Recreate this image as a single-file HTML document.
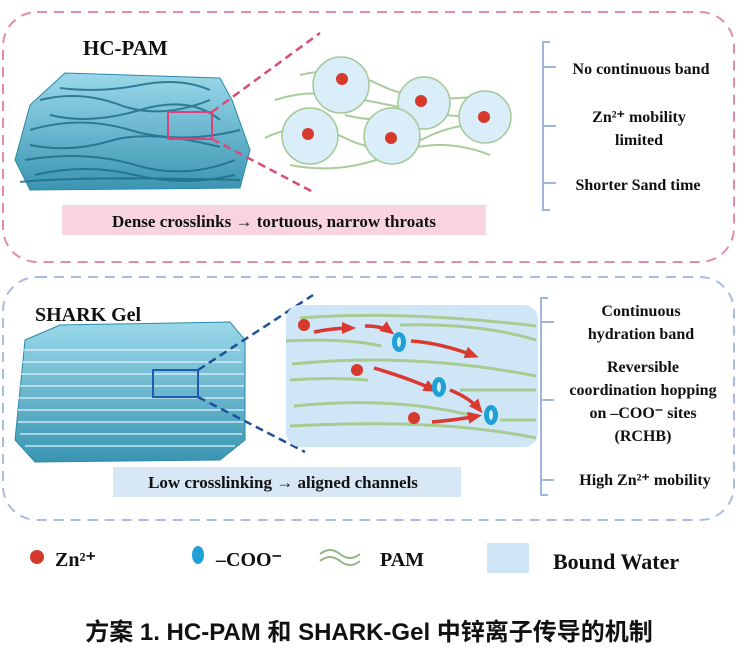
<!DOCTYPE html>
<html><head><meta charset="utf-8"><style>
body{margin:0;background:#fff}
svg{display:block}
.t{font-family:"Liberation Serif",serif;font-weight:bold;fill:#111}
</style></head><body>
<svg width="738" height="668" viewBox="0 0 738 668" xmlns="http://www.w3.org/2000/svg">
<defs>
<linearGradient id="gl" x1="0" y1="0" x2="0" y2="1"><stop offset="0" stop-color="#9ad8ea"/><stop offset="1" stop-color="#3a95b2"/></linearGradient>
<marker id="ar" markerUnits="userSpaceOnUse" markerWidth="14" markerHeight="12" refX="10" refY="6" orient="auto"><path d="M0,0 L14,6 L0,12 z" fill="#d9392f"/></marker>
</defs>
<!-- top box -->
<rect x="3" y="12" width="731" height="250" rx="34" fill="none" stroke="#e48aaa" stroke-width="2" stroke-dasharray="10,7"/>
<text x="83" y="55" class="t" font-size="21">HC-PAM</text>
<path d="M30,105 L65,73 L220,78 L232,100 L250,150 L240,188 L30,190 L15,160 Z" fill="url(#gl)" stroke="#2d8aa6"/>
<g stroke="#1f6f88" stroke-width="2" fill="none" opacity=".85">
<path d="M40,100 q40,-10 80,5 t90,-5"/><path d="M30,130 q50,-15 100,0 t110,0"/><path d="M25,160 q60,-10 110,5 t100,-5"/><path d="M50,115 q40,10 90,-5 t80,10"/><path d="M35,175 q50,-12 100,0 t100,0"/><path d="M60,88 q40,5 80,-3 t70,5"/><path d="M30,145 q40,8 80,-4 t110,6"/><path d="M20,182 q60,-6 220,-2"/>
</g>
<rect x="168" y="112" width="44" height="27" fill="none" stroke="#e0407a" stroke-width="2"/>
<line x1="212" y1="112" x2="320" y2="33" stroke="#d84c7c" stroke-width="2.5" stroke-dasharray="8,5"/>
<line x1="212" y1="139" x2="315" y2="193" stroke="#d84c7c" stroke-width="2.5" stroke-dasharray="8,5"/>
<g stroke="#a9cc9a" stroke-width="2" fill="none">
<path d="M275,100 q30,-10 60,-5 t80,15 t80,5"/><path d="M265,138 q40,-20 80,0 t80,0 t80,-10"/><path d="M290,165 q50,10 100,-10 t100,0"/><path d="M300,75 q40,-10 80,10 t110,10"/><path d="M345,115 q40,10 80,0"/>
</g>
<g fill="#d9eef8" stroke="#a3c896" stroke-width="1.5">
<circle cx="341" cy="85" r="28"/><circle cx="424" cy="103" r="26"/><circle cx="485" cy="117" r="26"/><circle cx="310" cy="136" r="28"/><circle cx="392" cy="136" r="28"/>
</g>
<g fill="#d63a2d"><circle cx="342" cy="79" r="6"/><circle cx="421" cy="101" r="6"/><circle cx="484" cy="117" r="6"/><circle cx="308" cy="134" r="6"/><circle cx="391" cy="138" r="6"/></g>
<rect x="62" y="205" width="424" height="30" fill="#f8d4df"/>
<text x="274" y="227" class="t" font-size="17" text-anchor="middle">Dense crosslinks → tortuous, narrow throats</text>
<path d="M550,42 H543 V210 H550" fill="none" stroke="#9fb6d8" stroke-width="2"/>
<g stroke="#9fb6d8" stroke-width="2"><line x1="543" y1="67" x2="556" y2="67"/><line x1="543" y1="126" x2="556" y2="126"/><line x1="543" y1="183" x2="556" y2="183"/></g>
<text x="641" y="74" class="t" font-size="16" text-anchor="middle">No continuous band</text>
<text x="639" y="122" class="t" font-size="16" text-anchor="middle">Zn²⁺ mobility</text>
<text x="639" y="145" class="t" font-size="16" text-anchor="middle">limited</text>
<text x="638" y="190" class="t" font-size="16" text-anchor="middle">Shorter Sand time</text>
<!-- bottom box -->
<rect x="3" y="277" width="731" height="243" rx="34" fill="none" stroke="#a9bde0" stroke-width="2" stroke-dasharray="10,7"/>
<text x="35" y="321" class="t" font-size="20">SHARK Gel</text>
<path d="M25,340 L60,325 L230,322 L245,340 L245,440 L220,460 L35,462 L15,440 Z" fill="url(#gl)" stroke="#2d8aa6"/>
<g stroke="#e6f6fb" stroke-width="1.5" fill="none" opacity=".8">
<path d="M20,350 h220"/><path d="M18,362 h224"/><path d="M18,374 h226"/><path d="M18,386 h226"/><path d="M18,398 h226"/><path d="M18,410 h226"/><path d="M18,422 h226"/><path d="M20,434 h222"/><path d="M25,446 h210"/>
</g>
<rect x="153" y="370" width="45" height="27" fill="none" stroke="#1d5bb0" stroke-width="2"/>
<line x1="198" y1="370" x2="313" y2="295" stroke="#1d4f9a" stroke-width="2.5" stroke-dasharray="8,5"/>
<line x1="198" y1="397" x2="305" y2="452" stroke="#1d4f9a" stroke-width="2.5" stroke-dasharray="8,5"/>
<rect x="286" y="305" width="252" height="142" rx="14" fill="#cfe6f6"/>
<g stroke="#a6cc92" stroke-width="3" fill="none">
<path d="M300,318 q100,-8 236,8"/><path d="M286,341 q60,-3 95,5"/><path d="M400,325 q80,-2 136,15"/><path d="M292,364 q120,-12 244,12"/><path d="M290,380 q40,-3 78,0"/><path d="M460,390 h76"/><path d="M294,406 q100,-10 180,10"/><path d="M500,420 h36"/><path d="M290,426 q150,-8 246,12"/>
</g>
<g stroke="#d9392f" stroke-width="3.5" fill="none" marker-end="url(#ar)">
<path d="M314,332 q20,-4 38,-4"/><path d="M365,326 q18,0 26,6"/><path d="M411,341 q30,2 64,15"/><path d="M374,368 q40,12 60,22"/><path d="M450,390 q20,8 30,20"/><path d="M432,422 q24,-2 46,-6"/>
</g>
<g fill="#d63a2d"><circle cx="304" cy="325" r="6"/><circle cx="357" cy="370" r="6"/><circle cx="414" cy="418" r="6"/></g>
<g fill="#1fa1d6"><ellipse cx="399" cy="342" rx="7" ry="10"/><ellipse cx="439" cy="387" rx="7" ry="10"/><ellipse cx="491" cy="415" rx="7" ry="10"/></g>
<g fill="#d8f0fb"><ellipse cx="399" cy="342" rx="2" ry="5"/><ellipse cx="439" cy="387" rx="2" ry="5"/><ellipse cx="491" cy="415" rx="2" ry="5"/></g>
<rect x="113" y="467" width="348" height="30" fill="#d7e7f6"/>
<text x="283" y="488" class="t" font-size="17" text-anchor="middle">Low crosslinking → aligned channels</text>
<path d="M548,298 H541 V495 H548" fill="none" stroke="#9fb6d8" stroke-width="2"/>
<g stroke="#9fb6d8" stroke-width="2"><line x1="541" y1="322" x2="554" y2="322"/><line x1="541" y1="400" x2="554" y2="400"/><line x1="541" y1="480" x2="554" y2="480"/></g>
<text x="641" y="316" class="t" font-size="16" text-anchor="middle">Continuous</text>
<text x="641" y="339" class="t" font-size="16" text-anchor="middle">hydration band</text>
<text x="643" y="372" class="t" font-size="16" text-anchor="middle">Reversible</text>
<text x="643" y="395" class="t" font-size="16" text-anchor="middle">coordination hopping</text>
<text x="643" y="418" class="t" font-size="16" text-anchor="middle">on –COO⁻ sites</text>
<text x="643" y="441" class="t" font-size="16" text-anchor="middle">(RCHB)</text>
<text x="645" y="485" class="t" font-size="16" text-anchor="middle">High Zn²⁺ mobility</text>
<!-- legend -->
<circle cx="37" cy="557" r="7" fill="#d63a2d"/>
<text x="55" y="566" class="t" font-size="20">Zn²⁺</text>
<ellipse cx="198" cy="555" rx="6" ry="9" fill="#1fa1d6"/>
<text x="216" y="566" class="t" font-size="20">–COO⁻</text>
<path d="M320,554 q10,-8 20,0 t20,0" fill="none" stroke="#8fb884" stroke-width="2"/>
<path d="M320,561 q10,-8 20,0 t20,0" fill="none" stroke="#8fb884" stroke-width="2"/>
<text x="380" y="566" class="t" font-size="20">PAM</text>
<rect x="487" y="543" width="42" height="30" fill="#cfe6f6"/>
<text x="553" y="569" class="t" font-size="22">Bound Water</text>
<text x="369" y="640" font-family="'Liberation Sans','Noto Sans CJK SC',sans-serif" font-size="24" font-weight="bold" fill="#111" text-anchor="middle">方案 1. HC-PAM 和 SHARK-Gel 中锌离子传导的机制</text>
</svg>
</body></html>
